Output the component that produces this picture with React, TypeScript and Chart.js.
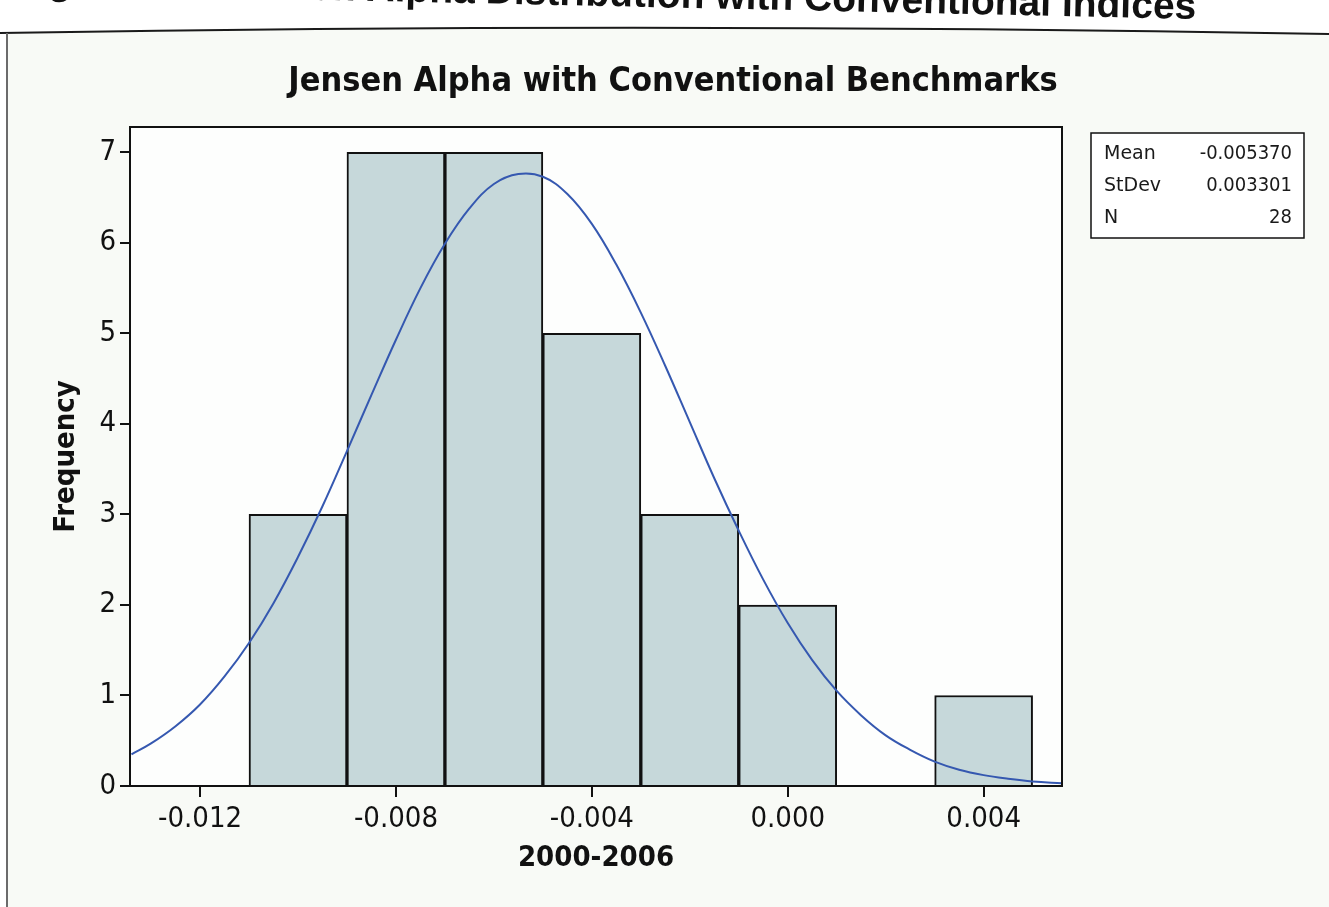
import React, { useEffect, useRef } from "react";
import { Chart, registerables } from "chart.js";

Chart.register(...registerables);

// ---- data ----
const binCenters = [-0.01, -0.008, -0.006, -0.004, -0.002, 0.0, 0.002, 0.004];
const binCounts = [3, 7, 7, 5, 3, 2, 0, 1];

// fitted normal curve
const curveX = [
  -0.0134, -0.013, -0.0125, -0.012, -0.0115, -0.011, -0.0105, -0.01, -0.0095, -0.009,
  -0.0085, -0.008, -0.0075, -0.007, -0.0065, -0.006, -0.0055, -0.005, -0.0045, -0.004,
  -0.0035, -0.003, -0.0025, -0.002, -0.0015, -0.001, -0.0005, 0.0, 0.0005, 0.001,
  0.0015, 0.002, 0.0025, 0.003, 0.0035, 0.004, 0.0045, 0.005, 0.0056,
];
const curveY = [
  0.35, 0.47, 0.66, 0.9, 1.21, 1.58, 2.02, 2.53, 3.09, 3.7,
  4.32, 4.93, 5.5, 5.99, 6.38, 6.65, 6.76, 6.73, 6.54, 6.21,
  5.76, 5.23, 4.64, 4.02, 3.4, 2.82, 2.28, 1.8, 1.39, 1.05,
  0.78, 0.56, 0.4, 0.27, 0.18, 0.12, 0.08, 0.05, 0.03,
];

const xTickValues = [-0.012, -0.008, -0.004, 0.0, 0.004];
const xTickLabels = ["-0.012", "-0.008", "-0.004", "0.000", "0.004"];
const yTickValues = [0, 1, 2, 3, 4, 5, 6, 7];
const yTickLabels = ["0", "1", "2", "3", "4", "5", "6", "7"];

const statLabels = ["Mean", "StDev", "N"];
const statValues = ["-0.005370", "0.003301", "28"];

const chartTitle = "Jensen Alpha with Conventional Benchmarks";
const xTitle = "2000-2006";
const yTitle = "Frequency";
const pageHeading = "Figure 4.2: Jensen Alpha Distribution with Conventional Indices";

const W = 1329;
const H = 907;
const COND = "'DejaVu Sans Condensed', 'DejaVu Sans', sans-serif";
const SANS = "'DejaVu Sans', sans-serif";

const decor = {
  id: "decor",
  beforeDraw(chart: any) {
    const { ctx, chartArea: a } = chart;
    ctx.save();
    ctx.fillStyle = "#ffffff";
    ctx.fillRect(0, 0, W, H);
    // figure frame background
    ctx.fillStyle = "#f8faf6";
    ctx.beginPath();
    ctx.moveTo(8, 33);
    ctx.quadraticCurveTo(660, 22, W, 34);
    ctx.lineTo(W, H);
    ctx.lineTo(8, H);
    ctx.closePath();
    ctx.fill();
    // top frame line
    ctx.strokeStyle = "#1a1a1a";
    ctx.lineWidth = 2;
    ctx.beginPath();
    ctx.moveTo(0, 33);
    ctx.quadraticCurveTo(660, 22, W, 34);
    ctx.stroke();
    // left frame line
    ctx.strokeStyle = "#6b6b6b";
    ctx.beginPath();
    ctx.moveTo(7, 33);
    ctx.lineTo(7, H);
    ctx.stroke();
    // cropped page heading
    ctx.save();
    ctx.translate(1196, 19);
    ctx.rotate(0.022);
    ctx.fillStyle = "#111111";
    ctx.font = "bold 39px 'Liberation Sans', Arial, sans-serif";
    ctx.textAlign = "right";
    ctx.textBaseline = "alphabetic";
    ctx.fillText(pageHeading, 0, 0);
    ctx.restore();
    // plot area
    ctx.fillStyle = "#fdfefd";
    ctx.fillRect(a.left, a.top, a.right - a.left, a.bottom - a.top);
    ctx.restore();
  },
  afterDatasetsDraw(chart: any) {
    const { ctx, chartArea: a } = chart;
    ctx.save();
    ctx.strokeStyle = "#111111";
    ctx.lineWidth = 2;
    ctx.strokeRect(a.left, a.top, a.right - a.left, a.bottom - a.top);
    ctx.restore();
  },
  afterDraw(chart: any) {
    const { ctx, chartArea: a } = chart;
    ctx.save();
    // chart title
    ctx.fillStyle = "#111111";
    ctx.font = "bold 34px " + COND;
    ctx.textAlign = "center";
    ctx.textBaseline = "alphabetic";
    ctx.fillText(chartTitle, 673, 91);
    // stats box
    const bx = a.right + 29;
    const by = 133;
    const bw = 213;
    const bh = 105;
    ctx.fillStyle = "#ffffff";
    ctx.fillRect(bx, by, bw, bh);
    ctx.strokeStyle = "#111111";
    ctx.lineWidth = 1.5;
    ctx.strokeRect(bx, by, bw, bh);
    ctx.textBaseline = "middle";
    ctx.fillStyle = "#1a1a1a";
    statLabels.forEach((lab, i) => {
      const y = by + 21 + i * 32;
      ctx.font = "19px " + SANS;
      ctx.textAlign = "left";
      ctx.fillText(lab, bx + 13, y);
      ctx.font = "20px " + COND;
      ctx.textAlign = "right";
      ctx.fillText(statValues[i], bx + bw - 12, y);
    });
    ctx.restore();
  },
};

export default function App() {
  const ref = useRef<HTMLCanvasElement | null>(null);

  useEffect(() => {
    if (!ref.current) return;
    const chart = new Chart(ref.current, {
      type: "bar",
      data: {
        datasets: [
          {
            type: "line",
            label: "Normal fit",
            data: curveX.map((x, i) => ({ x, y: curveY[i] })),
            borderColor: "#3558b0",
            borderWidth: 2,
            pointRadius: 0,
            tension: 0.4,
            fill: false,
            order: 0,
          } as any,
          {
            type: "bar",
            label: "Frequency",
            data: binCenters.map((x, i) => ({ x, y: binCounts[i] })),
            backgroundColor: "#c6d8da",
            borderColor: "#111111",
            borderWidth: 2,
            barPercentage: 1,
            categoryPercentage: 1,
            order: 1,
          } as any,
        ],
      },
      plugins: [decor],
      options: {
        responsive: false,
        animation: false,
        devicePixelRatio: 1,
        layout: { padding: { left: 0, top: 127, right: W - 1062, bottom: 0 } },
        plugins: {
          legend: { display: false },
          tooltip: { enabled: false },
          title: { display: false },
        },
        scales: {
          x: {
            type: "linear",
            min: -0.01343,
            max: 0.0056,
            offset: false,
            afterBuildTicks: (axis: any) => {
              axis.ticks = xTickValues.map((v) => ({ value: v }));
            },
            afterFit: (axis: any) => {
              axis.height = H - 786;
            },
            ticks: {
              autoSkip: false,
              maxRotation: 0,
              padding: 5,
              color: "#111111",
              font: { family: COND, size: 29 },
              callback: (_v: any, i: number) => xTickLabels[i],
            },
            grid: {
              offset: false,
              drawOnChartArea: false,
              drawTicks: true,
              tickLength: 11,
              color: "#111111",
              lineWidth: 2,
            },
            border: { display: false },
            title: {
              display: true,
              text: xTitle,
              color: "#111111",
              font: { family: COND, size: 29, weight: "bold" },
              padding: { top: 0, bottom: 31 },
            },
          },
          y: {
            type: "linear",
            min: 0,
            max: 7.28,
            afterBuildTicks: (axis: any) => {
              axis.ticks = yTickValues.map((v) => ({ value: v }));
            },
            afterFit: (axis: any) => {
              axis.width = 130;
            },
            ticks: {
              autoSkip: false,
              padding: 4,
              color: "#111111",
              font: { family: COND, size: 29 },
              callback: (_v: any, i: number) => yTickLabels[i],
            },
            grid: {
              drawOnChartArea: false,
              drawTicks: true,
              tickLength: 10,
              color: "#111111",
              lineWidth: 2,
            },
            border: { display: false },
            title: {
              display: true,
              text: yTitle,
              color: "#111111",
              font: { family: COND, size: 29, weight: "bold" },
              padding: { top: 49, bottom: 0 },
            },
          },
        },
      } as any,
    });
    return () => chart.destroy();
  }, []);

  return (
    <div style={{ position: "fixed", left: 0, top: 0, width: W, height: H }}>
      <canvas ref={ref} width={W} height={H} style={{ width: W, height: H, display: "block" }} />
    </div>
  );
}
